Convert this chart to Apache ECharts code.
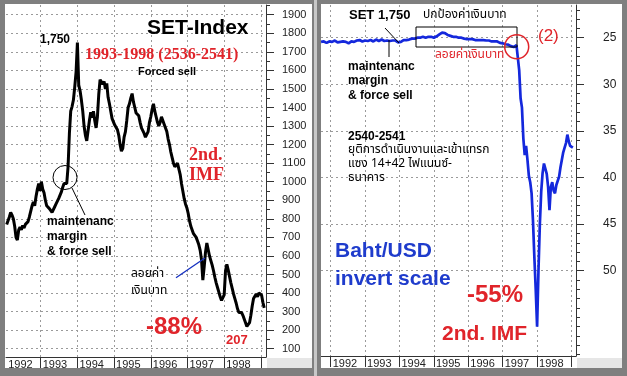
<!DOCTYPE html>
<html>
<head>
<meta charset="utf-8">
<script src="https://cdn.jsdelivr.net/npm/echarts@6.0.0/dist/echarts.min.js"></script>
<style>
  html, body { margin: 0; padding: 0; background: #fff; }
  #main { width: 627px; height: 376px; }
</style>
</head>
<body>
<div id="main"></div>
<script>
// SET index, roughly every two weeks from early 1992
var setStart = 1992.073;
var setStep = 0.03636;
var setValues = [
  770, 790, 810, 835, 820, 800, 760, 700, 685, 740,
  755, 740, 765, 750, 770, 760, 785, 810, 840, 870,
  890, 870, 920, 960, 990, 950, 1000, 960, 940, 900,
  870, 880, 855, 845, 835, 830, 865, 880, 895, 910,
  900, 945, 970, 990, 1000, 990, 1080, 1260, 1380, 1405,
  1440, 1510, 1590, 1750, 1520, 1490, 1440, 1380, 1300, 1250,
  1220, 1230, 1330, 1375, 1345, 1380, 1330, 1290, 1350, 1470,
  1550, 1540, 1525, 1540, 1500, 1530, 1455, 1420, 1380, 1340,
  1330, 1305, 1295, 1280, 1250, 1200, 1165, 1180, 1240, 1270,
  1330, 1400, 1420, 1450, 1475, 1430, 1400, 1370, 1365, 1355,
  1320, 1290, 1275, 1260, 1240, 1230, 1270, 1320, 1350, 1390,
  1420, 1380, 1350, 1320, 1300, 1320, 1350, 1330, 1310, 1300,
  1270, 1230, 1200, 1160, 1130, 1100, 1080, 1070, 1100, 1105,
  1040, 990, 950, 910, 880, 860, 830, 790, 760, 740,
  720, 730, 700, 680, 660, 630, 580, 470, 540, 620,
  670, 660, 600, 575, 550, 520, 485, 455, 430, 405,
  380, 360, 350, 390, 520, 555, 525, 490, 455, 425,
  395, 370, 345, 315, 295, 295, 295, 280, 260, 240,
  220, 210, 240, 280, 330, 370, 380, 395, 380, 400,
  410, 390, 350, 320
];

// Baht per USD, every 0.04 year from late 1991
var bahtStart = 1991.72;
var bahtStep = 0.04;
var bahtValues = [
  25.45, 25.50, 25.40, 25.45, 25.55, 25.45, 25.40, 25.35, 25.45, 25.40,
  25.30, 25.40, 25.50, 25.55, 25.45, 25.50, 25.40, 25.35, 25.45, 25.50,
  25.60, 25.50, 25.40, 25.35, 25.45, 25.40, 25.30, 25.35, 25.25, 25.30,
  25.40, 25.35, 25.30, 25.40, 25.35, 25.30, 25.25, 25.35, 25.40, 25.30,
  25.20, 25.25, 25.35, 25.30, 25.20, 25.25, 25.35, 25.40, 25.30, 25.25,
  25.35, 25.40, 25.30, 25.20, 25.30, 25.40, 25.50, 25.55, 25.45, 25.30,
  25.25, 25.20, 25.25, 25.15, 25.20, 25.15, 25.10, 25.15, 25.10, 25.05,
  25.00, 24.95, 25.00, 24.95, 24.90, 24.95, 25.00, 24.95, 24.90, 24.95,
  24.90, 24.95, 25.00, 24.95, 24.85, 24.75, 24.65, 24.55, 24.45, 24.40,
  24.50, 24.60, 24.70, 24.75, 24.80, 24.85, 24.90, 24.85, 24.90, 24.95,
  25.00, 25.05, 25.00, 25.05, 25.10, 25.10, 25.15, 25.10, 25.15, 25.20,
  25.15, 25.20, 25.25, 25.20, 25.25, 25.20, 25.25, 25.30, 25.25, 25.30,
  25.30, 25.35, 25.30, 25.35, 25.40, 25.35, 25.40, 25.45, 25.40, 25.50,
  25.55, 25.50, 25.60, 25.65, 25.70, 25.65, 25.75, 25.85, 25.90, 25.95,
  26.00, 25.90, 25.80, 26.00,
  28.5, 31.5, 32.5, 35.8, 37.6, 36.6, 38.1, 39.8, 40.5, 41.7,
  44.6, 48.5, 52.0, 56.0, 50.0, 45.0, 41.5, 39.5, 38.5, 38.5,
  39.6, 41.0, 43.5, 41.0, 40.5, 41.4, 41.7, 40.8, 40.6, 39.9,
  38.9, 38.1, 37.3, 36.8, 36.3, 35.4, 36.1, 36.6, 36.4, 36.8
];

// axis ticks
var setYearTicks = [1993, 1994, 1995, 1996, 1997, 1998, 1999];
var setYearLabels = [1992.06, 1993, 1994, 1995, 1996, 1997, 1998];
var setMajor = [100, 200, 300, 400, 500, 600, 700, 800, 900, 1000, 1100, 1200, 1300, 1400, 1500, 1600, 1700, 1800, 1900];
var setMinor = [150, 250, 350, 450, 550, 650, 750, 850, 950, 1050, 1150, 1250, 1350, 1450, 1550, 1650, 1750, 1850, 1950];
var bahtYearTicks = [1992, 1993, 1994, 1995, 1996, 1997, 1998, 1999];
var bahtYearLabels = [1992, 1993, 1994, 1995, 1996, 1997, 1998];
var bahtMajor = [25, 30, 35, 40, 45, 50];
var bahtMinor = [22, 23, 24, 26, 27, 28, 29, 31, 32, 33, 34, 36, 37, 38, 39, 41, 42, 43, 44, 46, 47, 48, 49, 51, 52, 53, 54, 55, 56, 57, 58, 59];

var RED = '#e0242a';
var GRIDC = '#9a9a9a';
var FONT = '"Liberation Sans", Arial, sans-serif';
var THAI = '"Noto Sans Thai", "Loma", "Garuda", "Tlwg Typo", "DejaVu Sans", sans-serif';
var SERIF = '"Liberation Serif", "Times New Roman", serif';

var leftBox = { left: 6, top: 5, width: 260, height: 352 };
var rightBox = { left: 321, top: 5, width: 255, height: 351 };

function toPairs(start, step, values) {
  return values.map(function (v, i) { return [start + i * step, v]; });
}

function txt(x, y, text, font, color) {
  return { type: 'text', x: x, y: y, z: 20,
    style: { text: text, font: font, fill: color || '#000', verticalAlign: 'top' } };
}
function seg(x1, y1, x2, y2, color, w) {
  return { type: 'line', z: 20, shape: { x1: x1, y1: y1, x2: x2, y2: y2 },
    style: { stroke: color || '#000', lineWidth: w || 1 } };
}
function ring(cx, cy, r, color, w) {
  return { type: 'circle', z: 20, shape: { cx: cx, cy: cy, r: r },
    style: { stroke: color, fill: 'none', lineWidth: w } };
}
function box(x, y, w, h, color) {
  return { type: 'rect', z: 30, shape: { x: x, y: y, width: w, height: h },
    style: { fill: color } };
}

function yearAxis(grid, min, max, ticks, labels) {
  return {
    type: 'value', gridIndex: grid, min: min, max: max,
    axisLine: { show: true, lineStyle: { color: '#333', width: 1 } },
    axisTick: { show: true, customValues: ticks, length: 11, lineStyle: { color: '#333' } },
    axisLabel: { show: true, customValues: labels, align: 'left', margin: 2,
      padding: [0, 0, 0, 2], color: '#222', fontSize: 11, fontFamily: FONT,
      formatter: function (v) { return String(Math.floor(v)); } },
    splitLine: { show: true, lineStyle: { color: GRIDC, type: [2, 3], width: 1 } }
  };
}

function hiddenX(grid, min, max) {
  return { type: 'value', gridIndex: grid, min: min, max: max, show: false };
}

function valueAxis(grid, min, max, inverse, major, labels, margin, size) {
  return {
    type: 'value', gridIndex: grid, position: 'right', min: min, max: max, inverse: inverse,
    axisLine: { show: true, lineStyle: { color: '#333', width: 1 } },
    axisTick: { show: true, customValues: major, length: 8, lineStyle: { color: '#333' } },
    axisLabel: { show: true, customValues: labels, margin: margin, color: '#222',
      fontSize: size, fontFamily: FONT,
      formatter: function (v) { return String(v); } },
    splitLine: { show: true, lineStyle: { color: GRIDC, type: [2, 3], width: 1 } }
  };
}

// short ticks, on an overlay grid of the same size
function minorAxis(grid, min, max, inverse, minor) {
  return {
    type: 'value', gridIndex: grid, position: 'right', min: min, max: max, inverse: inverse,
    axisLine: { show: false },
    axisTick: { show: true, customValues: minor, length: 4, lineStyle: { color: '#333' } },
    axisLabel: { show: false },
    splitLine: { show: false }
  };
}

function drawChart() {
  var myChart = echarts.init(document.getElementById('main'));
  option = {
    backgroundColor: '#fff',
    animation: false,
    grid: [leftBox, rightBox, leftBox, rightBox],
    xAxis: [
      yearAxis(0, 1992.0545, 1999.139, setYearTicks, setYearLabels),
      yearAxis(1, 1991.718, 1999.131, bahtYearTicks, bahtYearLabels),
      hiddenX(2, 1992.0545, 1999.139),
      hiddenX(3, 1991.718, 1999.131)
    ],
    yAxis: [
      valueAxis(0, 55.3, 1952.3, false, setMajor, setMajor, 16, 11),
      valueAxis(1, 21.49, 59.15, true, bahtMajor, bahtMajor, 27, 12),
      minorAxis(2, 55.3, 1952.3, false, setMinor),
      minorAxis(3, 21.49, 59.15, true, bahtMinor)
    ],
    series: [
      { type: 'line', xAxisIndex: 0, yAxisIndex: 0, showSymbol: false, silent: true, z: 3,
        data: toPairs(setStart, setStep, setValues),
        lineStyle: { color: '#000', width: 3 } },
      { type: 'line', xAxisIndex: 1, yAxisIndex: 1, showSymbol: false, silent: true, z: 3,
        data: toPairs(bahtStart, bahtStep, bahtValues),
        lineStyle: { color: '#1428dc', width: 2.7 } }
    ],
    graphic: [
      // frame
      box(0, 0, 627, 4, '#7f7f7f'),
      box(0, 368, 627, 8, '#7f7f7f'),
      box(0, 0, 5, 376, '#7f7f7f'),
      box(622, 0, 5, 376, '#7f7f7f'),
      box(312, 0, 9, 376, '#7f7f7f'),
      box(314, 0, 3, 376, '#c8c8c8'),
      box(267, 358, 45, 10, '#e6e6e6'),
      box(577, 358, 45, 10, '#e6e6e6'),

      // left panel notes
      txt(147, 18, 'SET-Index', 'bold 21px ' + FONT),
      txt(40, 34, '1,750', 'bold 12px ' + FONT),
      txt(85, 47, '1993-1998 (2536-2541)', 'bold 16px ' + SERIF, RED),
      txt(138, 66, 'Forced sell', 'bold 11px ' + FONT),
      txt(189, 146, '2nd.', 'bold 18px ' + SERIF, RED),
      txt(189, 166, 'IMF', 'bold 18px ' + SERIF, RED),
      ring(65, 177.5, 12, '#000', 1),
      seg(72, 188, 85, 215),
      txt(47, 216, 'maintenanc', 'bold 12px ' + FONT),
      txt(47, 231, 'margin', 'bold 12px ' + FONT),
      txt(47, 246, '& force sell', 'bold 12px ' + FONT),
      txt(131, 269, 'ลอยค่า', '12px ' + THAI),
      txt(131, 286, 'เงินบาท', '12px ' + THAI),
      seg(176, 277.7, 205, 258, '#1530c0', 1.3),
      txt(146, 315, '-88%', 'bold 24px ' + FONT, RED),
      txt(226, 334, '207', 'bold 13px ' + FONT, RED),

      // right panel notes
      txt(349, 9, 'SET 1,750', 'bold 13px ' + FONT),
      seg(385, 28, 399, 43),
      seg(389, 40, 389, 57),
      { type: 'rect', z: 20, shape: { x: 416, y: 27, width: 101, height: 20 },
        style: { stroke: '#000', fill: 'none', lineWidth: 1 } },
      txt(423, 10, 'ปกป้องค่าเงินบาท', '12px ' + THAI),
      ring(516.7, 46.7, 12, RED, 1.5),
      txt(538, 28, '(2)', '17px ' + FONT, RED),
      txt(435, 50, 'ลอยค่าเงินบาท', '12px ' + THAI, RED),
      txt(348, 61, 'maintenanc', 'bold 12px ' + FONT),
      txt(348, 75, 'margin', 'bold 12px ' + FONT),
      txt(348, 90, '& force sell', 'bold 12px ' + FONT),
      txt(348, 131, '2540-2541', 'bold 12px ' + FONT),
      txt(348, 145, 'ยุติการดำเนินงานและเข้าแทรก', '12px ' + THAI),
      txt(348, 159, 'แซง 14+42 ไฟแนนซ์-', '12px ' + THAI),
      txt(348, 173, 'ธนาคาร', '12px ' + THAI),
      txt(335, 241, 'Baht/USD', 'bold 21px ' + FONT, '#1f3ccc'),
      txt(335, 269, 'invert scale', 'bold 21px ' + FONT, '#1f3ccc'),
      txt(467, 283, '-55%', 'bold 24px ' + FONT, RED),
      txt(442, 324, '2nd. IMF', 'bold 21px ' + FONT, RED)
    ]
  };
  myChart.setOption(option);
}

drawChart();
</script>
</body>
</html>
